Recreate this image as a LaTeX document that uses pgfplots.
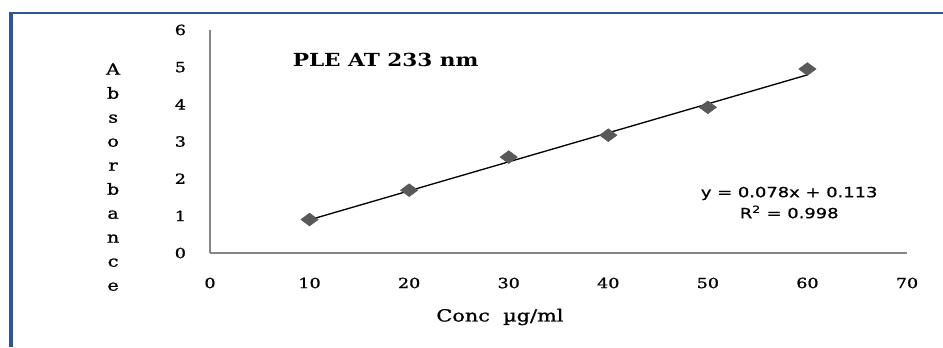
\documentclass[border=0pt]{standalone}
\usepackage{fontspec}
\setmainfont{DejaVu Serif}[FakeStretch=1.25, FakeBold=1.2]
\newfontfamily\eqfont{DejaVu Sans}[FakeStretch=1.28, FakeBold=0.8]
\newfontfamily\titlefont{DejaVu Serif Bold}[FakeStretch=1.2]
\usepackage{pgfplots}
\pgfplotsset{compat=1.18}
\definecolor{frame}{RGB}{47,85,151}
\definecolor{mk}{RGB}{89,89,89}
\definecolor{ax}{RGB}{134,134,134}
\begin{document}
\begin{tikzpicture}
\path[use as bounding box] (0pt,0pt) rectangle (707.25pt,260.25pt);
\fill[white] (0pt,0pt) rectangle (707.25pt,260.25pt);
\draw[frame, line width=3pt] (7.9pt,0pt) -- (7.9pt,251pt);
\draw[frame, line width=1.5pt] (6.5pt,250.5pt) -- (707.25pt,250.5pt);
\begin{axis}[
  at={(157.5pt,70.5pt)}, anchor=origin,
  scale only axis, width=522.75pt, height=167.25pt,
  xmin=0, xmax=70, ymin=0, ymax=6,
  axis x line*=bottom, axis y line*=left,
  axis line style={ax, line width=1pt, -},
  xtick={0,10,...,70}, ytick={0,1,...,6},
  major tick length=0pt,
  tick label style={font=\fontsize{10.5}{12}\selectfont},
  /pgf/number format/assume math mode=true,
  xticklabel style={yshift=-15pt},
  yticklabel style={xshift=-14.5pt},
  xlabel={Conc\ \ µg/ml},
  xlabel style={font=\fontsize{12.5}{14}\selectfont, at={(axis description cs:0.416,-0.287)}, anchor=center},
  ylabel={A\\b\\s\\o\\r\\b\\a\\n\\c\\e},
  ylabel style={rotate=-90, align=center, font=\fontsize{11.5}{18}\selectfont, at={(axis description cs:-0.139,0.34)}, anchor=center},
  clip=false,
]
\addplot[only marks, mark=diamond*, mark size=4.8pt, mark options={fill=mk, draw=mk, xscale=1.8}]
  coordinates {(10,0.90) (20,1.69) (30,2.58) (40,3.17) (50,3.92) (60,4.95)};
\addplot[black, line width=1pt, no marks] coordinates {(10,0.893) (60,4.793)};
\node[anchor=west, font=\titlefont\fontsize{13.5}{15}\selectfont] at (rel axis cs:0.112,0.865) {PLE AT 233 nm};
\node[align=center, font=\eqfont\fontsize{10.5}{15.75}\selectfont] at (rel axis cs:0.831,0.226) {y = 0.078x + 0.113\\R\textsuperscript{2} = 0.998};
\end{axis}
\end{tikzpicture}
\end{document}
